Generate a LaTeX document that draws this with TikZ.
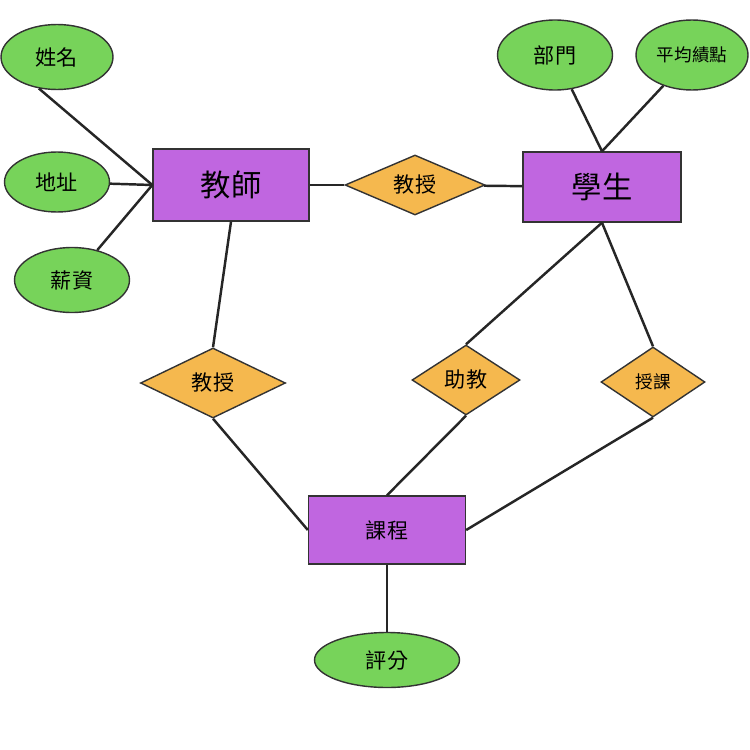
\documentclass[tikz,border=0pt]{standalone}
\usepackage{fontspec}
\setmainfont{Noto Sans CJK TC}
\usetikzlibrary{shapes.geometric}
\definecolor{attrgreen}{HTML}{77D35A}
\definecolor{entpurple}{HTML}{C066E0}
\definecolor{relorange}{HTML}{F5B84E}
\tikzset{
  attr/.style={ellipse, draw=black!80, thick, fill=attrgreen, inner sep=0pt, font=\large},
  ent/.style={rectangle, draw=black!80, thick, fill=entpurple, inner sep=0pt, font=\large},
  rel/.style={diamond, draw=black!80, thick, fill=relorange, inner sep=0pt, aspect=2, font=\large},
  link/.style={line width=1.4pt, black!85}
}
\begin{document}
\begin{tikzpicture}[x=0.02cm, y=-0.02cm]
\useasboundingbox (0,0) rectangle (750,750);
\node[attr, minimum width=2.24cm, minimum height=1.3cm] (name) at (57,57) {姓名};
\node[attr, minimum width=2.1cm, minimum height=1.2cm] (addr) at (57,182) {地址};
\node[attr, minimum width=2.3cm, minimum height=1.3cm] (salary) at (72,280) {薪資};
\node[ent, minimum width=3.12cm, minimum height=1.44cm, font=\LARGE] (teacher) at (231,185) {教師};
\node[rel, minimum width=2.8cm, minimum height=1.2cm] (teach) at (415,185) {教授};
\node[ent, minimum width=3.16cm, minimum height=1.4cm, font=\LARGE] (student) at (602,187) {學生};
\node[attr, minimum width=2.3cm, minimum height=1.4cm] (dept) at (555,55) {部門};
\node[attr, minimum width=2.24cm, minimum height=1.4cm, font=\normalsize] (gpa) at (692,55) {平均績點};
\node[rel, minimum width=2.9cm, minimum height=1.4cm] (lecture) at (213,383) {教授};
\node[rel, minimum width=2.16cm, minimum height=1.4cm] (assist) at (466,380) {助教};
\node[rel, minimum width=2.08cm, minimum height=1.4cm, font=\normalsize] (attend) at (653,382) {授課};
\node[ent, minimum width=3.14cm, minimum height=1.36cm] (course) at (387,530) {課程};
\node[attr, minimum width=2.9cm, minimum height=1.1cm] (grade) at (387,660) {評分};

\draw[link] (name.-120) -- (teacher.west);
\draw[link] (addr) -- (teacher.west);
\draw[link] (salary) -- (teacher.west);
\draw[link] (teacher) -- (teach);
\draw[link] (teach) -- (student);
\draw[link] (dept) -- (student.north);
\draw[link] (gpa) -- (student.north);
\draw[link] (teacher.south) -- (lecture.north);
\draw[link] (student.south) -- (assist.north);
\draw[link] (student.south) -- (attend.north);
\draw[link] (lecture.south) -- (course.west);
\draw[link] (assist.south) -- (course.north);
\draw[link] (attend.south) -- (course.east);
\draw[link] (course) -- (grade);
\end{tikzpicture}
\end{document}
